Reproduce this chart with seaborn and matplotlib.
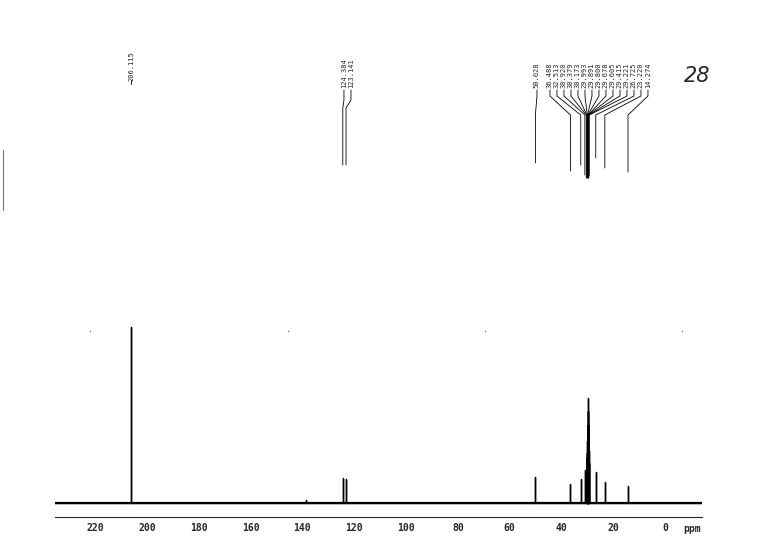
import matplotlib
matplotlib.use('Agg')
import matplotlib.pyplot as plt
import numpy as np
import pandas as pd
import seaborn as sns

# peak list (ppm) and heights (arbitrary units)
peak_ppm = [206.115, 138.5, 124.384, 123.141, 50.028, 36.488, 32.513, 30.920,
            30.379, 30.173, 30.093, 29.991, 29.891, 29.800, 29.678, 29.609,
            29.415, 29.221, 26.725, 23.220, 14.274]
peak_height = [176, 3, 25, 24, 26, 19, 24, 33,
               28, 45, 50, 62, 78, 92, 105, 72,
               52, 40, 31, 21, 17]

# labelled groups as printed over the spectrum
label_single = ['206.115']
label_pair = ['124.384', '123.141']
label_cluster = ['50.028', '36.488', '32.513', '30.920', '30.379', '30.173',
                 '29.993', '29.891', '29.800', '29.678', '29.605', '29.415',
                 '29.221', '26.725', '23.220', '14.274']
cluster_peaks = [50.028, 36.488, 32.513, 30.920, 30.379, 30.173, 29.993, 29.891,
                 29.800, 29.678, 29.605, 29.415, 29.221, 26.725, 23.220, 14.274]

major_ticks = [220, 200, 180, 160, 140, 120, 100, 80, 60, 40, 20, 0]

# stick trace built from the peak list
xs, ys = [236.0], [0.0]
for p, h in sorted(zip(peak_ppm, peak_height), reverse=True):
    xs += [p, p, p]
    ys += [0.0, h, 0.0]
xs.append(-15.0)
ys.append(0.0)
spec = pd.DataFrame({'ppm': xs, 'intensity': ys})

sns.set_style('white')
plt.rcParams['font.family'] = ['DejaVu Sans Mono', 'DejaVu Sans']

W, H = 770, 559
fig = plt.figure(figsize=(7.7, 5.59), dpi=100)
ax = fig.add_axes([55 / W, (H - 517) / H, (702 - 55) / W, (517 - 40) / H])

sns.lineplot(data=spec, x='ppm', y='intensity', sort=False, estimator=None,
             color='black', linewidth=1.0, ax=ax)
ax.axhline(0, color='black', linewidth=1.6)

ax.set_xlim(235.5, -14.3)
ax.set_ylim(-14, 463)
ax.set_xlabel('')
ax.set_ylabel('')
ax.set_yticks([])
for s in ['top', 'left', 'right']:
    ax.spines[s].set_visible(False)
ax.spines['bottom'].set_linewidth(0.8)
ax.set_xticks(major_ticks)
ax.set_xticklabels([str(t) for t in major_ticks], fontsize=7, fontweight='bold')
ax.set_xticks(np.arange(234, -14, -2), minor=True)
ax.tick_params(axis='x', which='major', length=3, width=0.7, direction='out', pad=1.5)
ax.tick_params(axis='x', which='minor', length=2, width=0.6, direction='out')


# convert figure pixel rows (from top) to data y
def yd(py):
    return 503 - py


def px2ppm(px):
    return (665 - px) / 2.59


ax.text(px2ppm(692), yd(529), 'ppm', fontsize=7, fontweight='bold',
        ha='center', va='center')

lw = 0.6
fs = 5

# single label
ax.text(206.115, yd(81), label_single[0], rotation=90, fontsize=fs,
        ha='center', va='bottom')
ax.plot([206.115, 206.115], [yd(84), yd(80)], color='black', lw=lw)

# pair label
pair_peaks = [124.384, 123.141]
pair_x = [px2ppm(344), px2ppm(351)]
for lab, lx, pk in zip(label_pair, pair_x, pair_peaks):
    ax.text(lx, yd(88), lab, rotation=90, fontsize=fs, ha='center',
            va='bottom')
    ax.plot([lx, lx, pk, pk], [yd(90), yd(100), yd(108), yd(165)],
            color='black', lw=lw)

# cluster labels
cl_px = [537] + list(np.linspace(550, 648, 15))
ends = [163, 171, 165, 175, 178, 178, 178, 178, 178, 178, 178, 178, 176, 158, 168, 172]
for lab, px, pk, e in zip(label_cluster, cl_px, cluster_peaks, ends):
    lx = px2ppm(px)
    ax.text(lx, yd(88), lab, rotation=90, fontsize=fs, ha='center',
            va='bottom')
    ax.plot([lx, lx, pk, pk], [yd(90), yd(96), yd(115), yd(e)],
            color='black', lw=lw)

# handwritten sample number and scan marks
fig.text(697 / W, 1 - 76 / H, '28', fontsize=15, family='DejaVu Sans',
         style='italic', ha='center', va='center')
for mx in [90, 288, 485, 683]:
    fig.text(mx / W, 1 - 330 / H, '.', fontsize=6, color='#555555',
             ha='center', va='center')
fig.add_artist(plt.Line2D([3 / W, 3 / W], [1 - 150 / H, 1 - 210 / H],
                          color='#777777', lw=0.8))

fig.savefig('out.png', dpi=100, facecolor='white')
